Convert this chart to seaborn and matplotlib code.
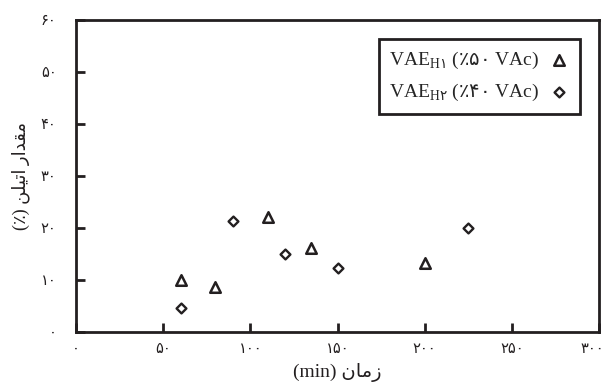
import matplotlib
matplotlib.use("Agg")
import matplotlib.pyplot as plt
import matplotlib.transforms as mtransforms
import seaborn as sns
import pandas as pd
from matplotlib.ticker import FixedLocator, FixedFormatter

# Reaction time (min) and ethylene content (%) for the two copolymer grades
time_h1 = [60, 80, 110, 135, 200]
ethylene_h1 = [10.0, 8.7, 22.2, 16.1, 13.3]
time_h2 = [60, 90, 120, 150, 225]
ethylene_h2 = [4.7, 21.4, 15.0, 12.4, 20.0]

label_h1 = "VAE$_{\\mathrm{H}\\mathsf{۱}}$ ($\\mathsf{٪۵۰}$ VAc)"
label_h2 = "VAE$_{\\mathrm{H}\\mathsf{۲}}$ ($\\mathsf{٪۴۰}$ VAc)"

x_ticks = [0, 50, 100, 150, 200, 250, 300]
x_tick_labels = ["۰", "۵۰", "۱۰۰", "۱۵۰", "۲۰۰", "۲۵۰", "۳۰۰"]
y_ticks = [0, 10, 20, 30, 40, 50, 60]
y_tick_labels = ["۰", "۱۰", "۲۰", "۳۰", "۴۰", "۵۰", "۶۰"]

# Persian axis titles, pre-shaped into visual (left-to-right) order
x_title = "(min) \uFEE5\uFE8E\uFEE3\uFEAF"
y_title = "(\u066A) \uFEE6\uFEE0\uFEF4\uFE97\uFE8D \uFEAD\uFE8D\uFEAA\uFED8\uFEE3"

sns.set_style("ticks")
ink = "#231f20"
plt.rcParams["font.family"] = ["Liberation Serif", "DejaVu Sans"]
plt.rcParams["mathtext.fontset"] = "custom"
plt.rcParams["mathtext.rm"] = "Liberation Serif"
plt.rcParams["mathtext.sf"] = "DejaVu Sans"

df1 = pd.DataFrame({"t": time_h1, "e": ethylene_h1})
df2 = pd.DataFrame({"t": time_h2, "e": ethylene_h2})

fig = plt.figure(figsize=(6.08, 3.89), dpi=100)
ax = fig.add_axes([76 / 608, 1 - 332 / 389, 523 / 608, 312 / 389])

sns.scatterplot(data=df1, x="t", y="e", ax=ax, marker="^", s=7.6 ** 2,
                facecolor="white", edgecolor=ink, linewidth=1.8, label=label_h1,
                zorder=3)
sns.scatterplot(data=df2, x="t", y="e", ax=ax, marker="D", s=5.0 ** 2,
                facecolor="white", edgecolor=ink, linewidth=1.7, label=label_h2,
                zorder=3)

ax.set_xlim(0, 300)
ax.set_ylim(0, 60)
ax.xaxis.set_major_locator(FixedLocator(x_ticks))
ax.xaxis.set_major_formatter(FixedFormatter(x_tick_labels))
ax.yaxis.set_major_locator(FixedLocator(y_ticks))
ax.yaxis.set_major_formatter(FixedFormatter(y_tick_labels))

for side in ["left", "right", "top", "bottom"]:
    ax.spines[side].set_visible(True)
    ax.spines[side].set_linewidth(2.0)
    ax.spines[side].set_color(ink)

ax.tick_params(axis="both", direction="in", length=6.5, width=2.0, color=ink,
               labelcolor=ink, labelsize=10.5)
ax.tick_params(axis="x", pad=8)
ax.tick_params(axis="y", pad=14)

# keep the last x tick label inside the figure edge
fig.canvas.draw()
last = ax.get_xticklabels()[-1]
last.set_transform(last.get_transform()
                   + mtransforms.ScaledTranslation(-7 / 100, 0, fig.dpi_scale_trans))

ax.set_xlabel(x_title, fontsize=14, color=ink, labelpad=5)
ax.set_ylabel(y_title, fontsize=13, color=ink, labelpad=8)

leg = ax.legend(loc="upper right", markerfirst=False, fontsize=14,
                frameon=True, fancybox=False, edgecolor=ink, borderaxespad=1.0,
                labelspacing=0.55, handletextpad=0.5, handlelength=1.0,
                borderpad=0.55)
leg.get_frame().set_linewidth(2.0)
leg.get_frame().set_alpha(1)

fig.savefig("out.png", dpi=100)
